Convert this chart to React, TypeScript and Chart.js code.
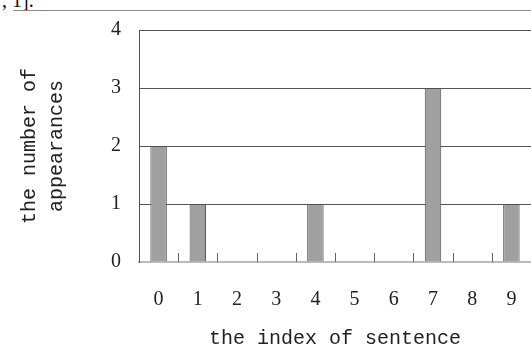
import React, { useEffect, useRef } from "react";
import { Chart, registerables } from "chart.js";

Chart.register(...registerables);

const categories: string[] = ["0", "1", "2", "3", "4", "5", "6", "7", "8", "9"];
const appearances: number[] = [2, 1, 0, 0, 1, 0, 0, 3, 0, 1];
const yTitleLines: string[] = ["the number of", "appearances"];
const xTitle = "the index of sentence";
const topFragment = ", 1].";

const innerTicks = {
  id: "innerTicks",
  afterDatasetsDraw(chart: any) {
    const x = chart.scales.x;
    const area = chart.chartArea;
    const ctx = chart.ctx;
    const half = (x.getPixelForValue(1) - x.getPixelForValue(0)) / 2;
    ctx.save();
    ctx.strokeStyle = "#666";
    ctx.lineWidth = 1;
    for (let i = 1; i < categories.length; i++) {
      const px = Math.round(x.getPixelForValue(i) - half) + 0.5;
      ctx.beginPath();
      ctx.moveTo(px, area.bottom - 9);
      ctx.lineTo(px, area.bottom);
      ctx.stroke();
    }
    ctx.restore();
  },
};

export default function App() {
  const ref = useRef<HTMLCanvasElement | null>(null);
  useEffect(() => {
    if (!ref.current) return;
    const chart = new Chart(ref.current, {
      type: "bar",
      data: {
        labels: categories,
        datasets: [
          {
            data: appearances,
            backgroundColor: "#a0a0a0",
            borderColor: "#505050",
            borderWidth: 1,
            barPercentage: 0.42,
            categoryPercentage: 1,
          },
        ],
      },
      options: {
        animation: false,
        responsive: false,
        maintainAspectRatio: false,
        layout: { padding: { top: 27, right: 0, left: 16, bottom: 0 } },
        plugins: { legend: { display: false }, tooltip: { enabled: false } },
        scales: {
          x: {
            grid: { display: false },
            border: { display: true, color: "#bbb", width: 2 },
            ticks: {
              padding: 18,
              color: "#222",
              font: { family: "Liberation Serif", size: 20 },
            },
            title: {
              display: true,
              text: xTitle,
              color: "#222",
              font: { family: "Liberation Mono", size: 20, lineHeight: 0.8 },
              padding: { top: 0, bottom: 0 },
            },
            afterFit: (s: any) => {
              s.height = 85;
              s.paddingLeft = 0;
              s.paddingRight = 0;
            },
          },
          y: {
            min: 0,
            max: 4,
            ticks: {
              stepSize: 1,
              padding: 18,
              color: "#222",
              font: { family: "Liberation Serif", size: 20 },
            },
            grid: {
              drawTicks: false,
              color: (c: any) => (c.tick && c.tick.value === 0 ? "rgba(0,0,0,0)" : "#555"),
              lineWidth: 1,
            },
            border: { display: true, color: "#555", width: 1 },
            title: {
              display: true,
              text: yTitleLines,
              color: "#222",
              font: { family: "Liberation Mono", size: 20, lineHeight: 1.35 },
              padding: { top: 0, bottom: 0 },
            },
            afterFit: (s: any) => {
              s.width = 123;
            },
          },
        },
      },
      plugins: [innerTicks],
    });
    return () => chart.destroy();
  }, []);

  return (
    <div style={{ position: "absolute", left: 0, top: 0, width: 531, height: 347, overflow: "hidden", background: "#fff" }}>
      <span
        style={{
          position: "absolute",
          left: 2,
          top: -10,
          fontFamily: "Liberation Serif",
          fontSize: 20,
          lineHeight: "20px",
          color: "#111",
          whiteSpace: "pre",
        }}
      >
        {topFragment}
      </span>
      <div style={{ position: "absolute", left: 13, top: 10, width: 518, height: 1, background: "#888" }} />
      <canvas ref={ref} width={531} height={347} style={{ position: "absolute", left: 0, top: 0 }} />
    </div>
  );
}
